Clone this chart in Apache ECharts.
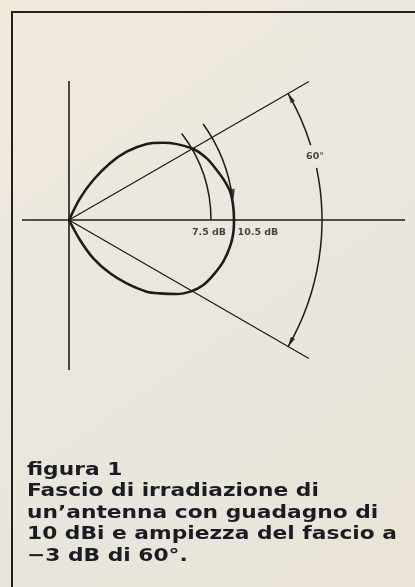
<!DOCTYPE html>
<html>
<head>
<meta charset="utf-8">
<script src="https://cdn.jsdelivr.net/npm/echarts@6/dist/echarts.min.js"></script>
<style>
html,body{margin:0;padding:0;background:#ece6da;}
#chart{width:415px;height:587px;}
</style>
</head>
<body>
<div id="chart"></div>
<script>
// Polar data: [radius (relative length), angle (degrees)]
// Radiation lobe
const lobeRadius = [0, 24.3, 46.8, 70, 89.4, 108.7, 121.9, 142.1, 150.9, 155.9, 160.6, 163.9, 164.8, 165,
                    164.8, 163.2, 159.8, 154.4, 149.2, 141.8, 130.7, 116.9, 105.7, 85.7, 67.3, 45.4, 22.8, 0];
const lobeAngle  = [66, 63.1, 58.7, 54.1, 49.8, 44.4, 39.3, 30.3, 24.1, 18.7, 13.8, 9.4, 4.6, 0,
                    -4.6, -9.4, -15.1, -20.9, -25.8, -30.1, -34.5, -38.9, -42.7, -47.7, -52.4, -57.6, -61.2, -64];

// Reference axes
const horizAxisRadius = [47, 0, 336];
const horizAxisAngle  = [180, 0, 0];
const vertAxisRadius  = [139, 0, 150];
const vertAxisAngle   = [90, 0, -90];

// Beam-edge (-3 dB) lines at +/-30 degrees
const beamRadius = [277, 0, 277];
const beamAngle  = [30, 0, -30];

// Arcs: radius, start angle, end angle
const arcRadius = [142, 165, 253, 253];
const arcFrom   = [0, 7.5, 17.2, -30];
const arcTo     = [37.5, 35.6, 30, 11.9];

// Arrowheads: radius, angle, rotation
const arrowRadius = [253, 253, 166];
const arrowAngle  = [28.9, -28.9, 9];
const arrowRotate = [29, 151, -173];

// Annotations
const labelText   = ['7.5 dB', '10.5 dB', '60°'];
const labelRadius = [140.6, 189.4, 254];
const labelAngle  = [-5.3, -3.9, 14.4];

const captionLines = [
  'figura 1',
  'Fascio di irradiazione di',
  'un\u2019antenna con guadagno di',
  '10 dBi e ampiezza del fascio a',
  '\u22123 dB di 60°.'
];

const ink = '#1d1c1c';
const zip = (a, b) => a.map((v, i) => [v, b[i]]);

const chart = echarts.init(document.getElementById('chart'), null, {renderer: 'canvas'});

// caption: bold sans, horizontally stretched to the width of the printed caption
const capFont = 'bold 18px "DejaVu Sans", sans-serif';
const mctx = document.createElement('canvas').getContext('2d');
mctx.font = capFont;
const capScale = 370 / mctx.measureText(captionLines[3]).width;

const captionGraphics = captionLines.map((t, i) => ({
  type: 'text',
  x: 27,
  y: 470 + i * 21.5,
  scaleX: capScale,
  z: 10,
  silent: true,
  style: {
    text: t,
    x: 0, y: 0,
    verticalAlign: 'middle',
    align: 'left',
    fill: '#1b1b22',
    font: capFont
  }
}));

const option = {
  animation: false,
  backgroundColor: 'transparent',
  graphic: [
    {
      type: 'rect', z: -100, silent: true,
      shape: {x: 0, y: 0, width: 415, height: 587},
      style: {
        fill: new echarts.graphic.LinearGradient(0, 0, 1, 1, [
          {offset: 0, color: '#f2e9db'},
          {offset: 0.35, color: '#ece8df'},
          {offset: 0.7, color: '#e8e5dc'},
          {offset: 1, color: '#ebe4d6'}
        ])
      }
    },
    {
      type: 'polyline', z: 5, silent: true,
      shape: {points: [[12, 587], [12, 12], [415, 12]]},
      style: {stroke: '#222', lineWidth: 2, fill: null}
    }
  ].concat(captionGraphics),
  polar: {center: [69, 220], radius: 340},
  radiusAxis: {
    type: 'value', min: 0, max: 340,
    axisLine: {show: false}, axisTick: {show: false}, axisLabel: {show: false},
    splitLine: {show: false}, splitArea: {show: false}
  },
  angleAxis: {
    type: 'value', min: -180, max: 180, startAngle: 180, clockwise: false,
    axisLine: {show: false}, axisTick: {show: false}, axisLabel: {show: false},
    splitLine: {show: false}, splitArea: {show: false}
  },
  series: [
    {
      type: 'line', coordinateSystem: 'polar', symbol: 'none', silent: true,
      data: zip(horizAxisRadius, horizAxisAngle),
      lineStyle: {color: ink, width: 1.6}
    },
    {
      type: 'line', coordinateSystem: 'polar', symbol: 'none', silent: true,
      data: zip(vertAxisRadius, vertAxisAngle),
      lineStyle: {color: ink, width: 1.6}
    },
    {
      type: 'line', coordinateSystem: 'polar', symbol: 'none', silent: true,
      data: zip(beamRadius, beamAngle),
      lineStyle: {color: ink, width: 1.3}
    },
    {
      type: 'line', coordinateSystem: 'polar', symbol: 'none', silent: true,
      smooth: 0.3,
      data: zip(lobeRadius, lobeAngle),
      lineStyle: {color: ink, width: 2.6, join: 'round'}
    },
    {
      type: 'custom', coordinateSystem: 'polar', silent: true,
      encode: {radius: 0, angle: 1},
      data: arcRadius.map((r, i) => [r, arcFrom[i], arcTo[i]]),
      renderItem: function (params, api) {
        const r = api.value(0), a1 = api.value(1), a2 = api.value(2);
        const c = api.coord([0, 0]);
        const p = api.coord([r, 0]);
        const rp = Math.hypot(p[0] - c[0], p[1] - c[1]);
        return {
          type: 'arc',
          shape: {cx: c[0], cy: c[1], r: rp,
                  startAngle: -a2 * Math.PI / 180, endAngle: -a1 * Math.PI / 180, clockwise: true},
          style: {stroke: ink, lineWidth: 1.5, fill: null}
        };
      }
    },
    {
      type: 'scatter', coordinateSystem: 'polar', silent: true,
      symbol: 'triangle', symbolSize: [5, 10],
      itemStyle: {color: ink},
      data: arrowRadius.map((r, i) => ({value: [r, arrowAngle[i]], symbolRotate: arrowRotate[i]}))
    },
    {
      type: 'scatter', coordinateSystem: 'polar', silent: true,
      symbolSize: 0,
      data: labelText.map((t, i) => ({value: [labelRadius[i], labelAngle[i]], name: t})),
      label: {
        show: true, position: 'inside',
        formatter: p => p.name,
        color: ink, fontFamily: '"DejaVu Sans", sans-serif', fontWeight: 'bold', fontSize: 9.5
      },
      emphasis: {disabled: true}
    }
  ]
};
chart.setOption(option);
</script>
</body>
</html>
